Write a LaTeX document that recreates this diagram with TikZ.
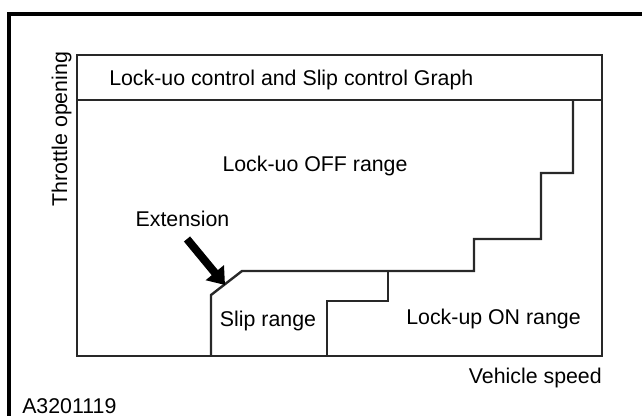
\documentclass[tikz,border=0pt]{standalone}
\usepackage{fontspec}
\setmainfont{Liberation Sans}
\usetikzlibrary{arrows.meta}
\definecolor{cline}{RGB}{40,40,40}
\tikzset{chart/.style={x=0.75pt,y=-0.75pt,font=\fontsize{16}{19}\selectfont}}
\tikzset{frame/.style={black,line width=2.6pt},
         border/.style={cline,line width=1.8pt},
         callout/.style={black,line width=6pt,-{Triangle[length=12pt,width=17pt]}},
         lbl/.style={inner sep=0pt}}

\begin{document}
\begin{tikzpicture}[chart]
    \useasboundingbox (0,0) rectangle (642,416);
    \draw[frame] (9,425) -- (9,14) -- (650,14);
    % graph box and header
    \draw[border] (77,55) rectangle (602,356);
    \draw[border] (77,100) -- (602,100);
    \node[lbl,anchor=base west] (title) at (109,86) {Lock-uo control and Slip control Graph};
    % range boundaries
    \draw[border] (573,100) |- (541,173) |- (474,239) |- (242,271) -- (211,295) -- (211,356);
    \draw[border] (388,271) |- (327,301) -- (327,356);
    \node[lbl,anchor=base] (off)  at (315,172) {Lock-uo OFF range};
    \node[lbl,anchor=base] (slip) at (268,326) {Slip range};
    \node[lbl,anchor=base] (on)   at (493.5,325) {Lock-up ON range};
    % extension callout
    \node[lbl,anchor=base] (ext) at (182.5,227) {Extension};
    \coordinate (tail) at (187,239);
    \coordinate (tip) at (225,285);
    \draw[callout] (tail) -- (tip);
    % axes
    \node[lbl,rotate=90,anchor=base] (throttle) at (67,129) {Throttle opening};
    \node[lbl,anchor=base east] (speed) at (602,383) {Vehicle speed};
    \node[lbl,anchor=base west] (code) at (22,413) {A3201119};
\end{tikzpicture}
\end{document}
